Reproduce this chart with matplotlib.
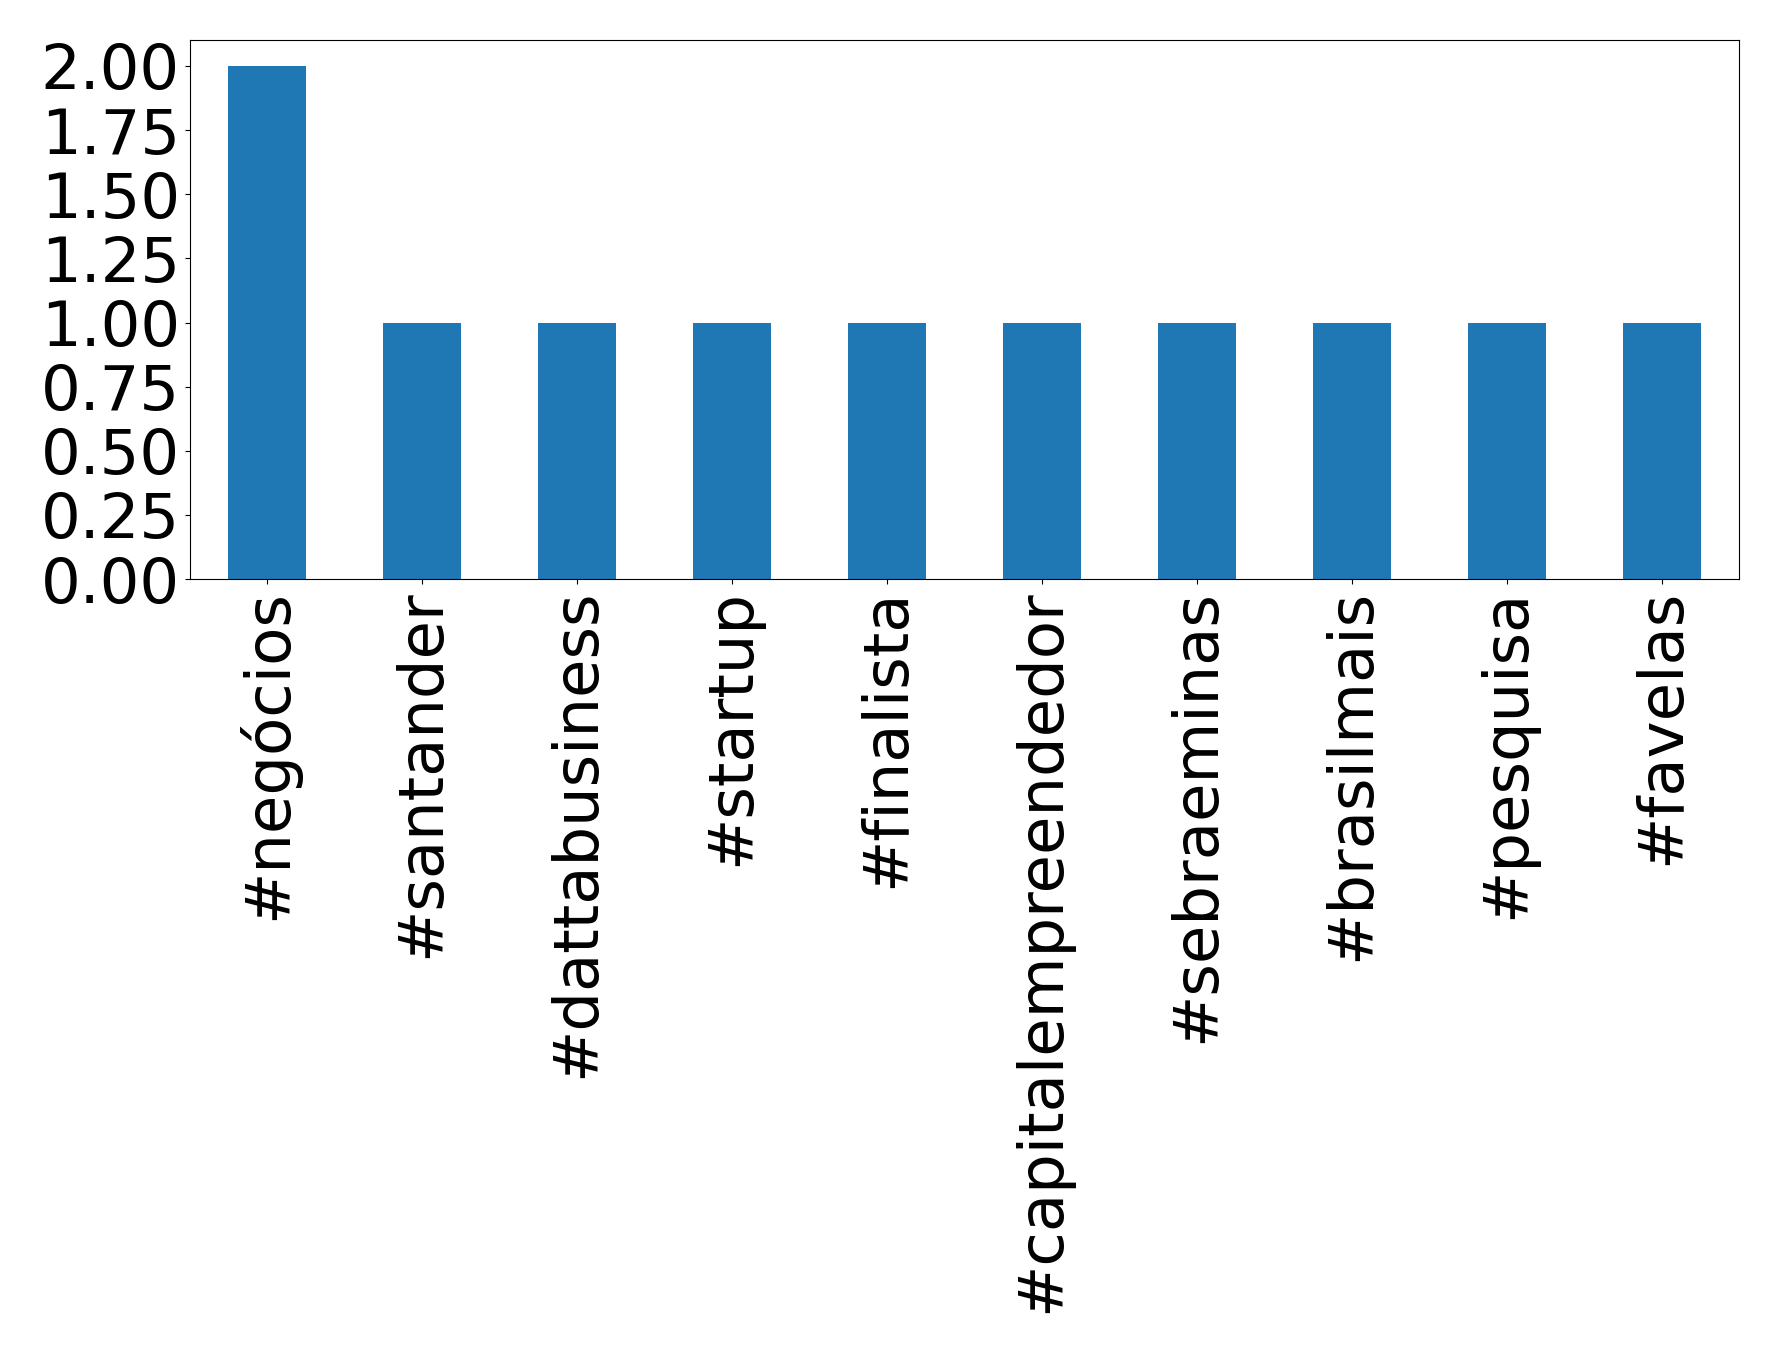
import matplotlib
matplotlib.use("Agg")
import matplotlib.pyplot as plt

categories = ["#negócios", "#santander", "#dattabusiness", "#startup", "#finalista",
              "#capitalempreendedor", "#sebraeminas", "#brasilmais", "#pesquisa", "#favelas"]
counts = [2, 1, 1, 1, 1, 1, 1, 1, 1, 1]
yticks = [0, 0.25, 0.5, 0.75, 1.0, 1.25, 1.5, 1.75, 2.0]

fig = plt.figure(figsize=(17.78, 13.52), dpi=100)
ax = fig.add_axes([0.1067, 0.5717, 0.8715, 0.3985])
x = list(range(len(categories)))
ax.bar(x, counts, width=0.5, color="#1f77b4")
ax.set_xlim(-0.5, len(categories) - 0.5)
ax.set_ylim(0, 2.1)
ax.set_yticks(yticks)
ax.set_yticklabels([f"{v:.2f}" for v in yticks])
ax.set_xticks(x)
ax.set_xticklabels(categories, rotation=90)
ax.tick_params(labelsize=45)
fig.savefig("out.png", dpi=100)
